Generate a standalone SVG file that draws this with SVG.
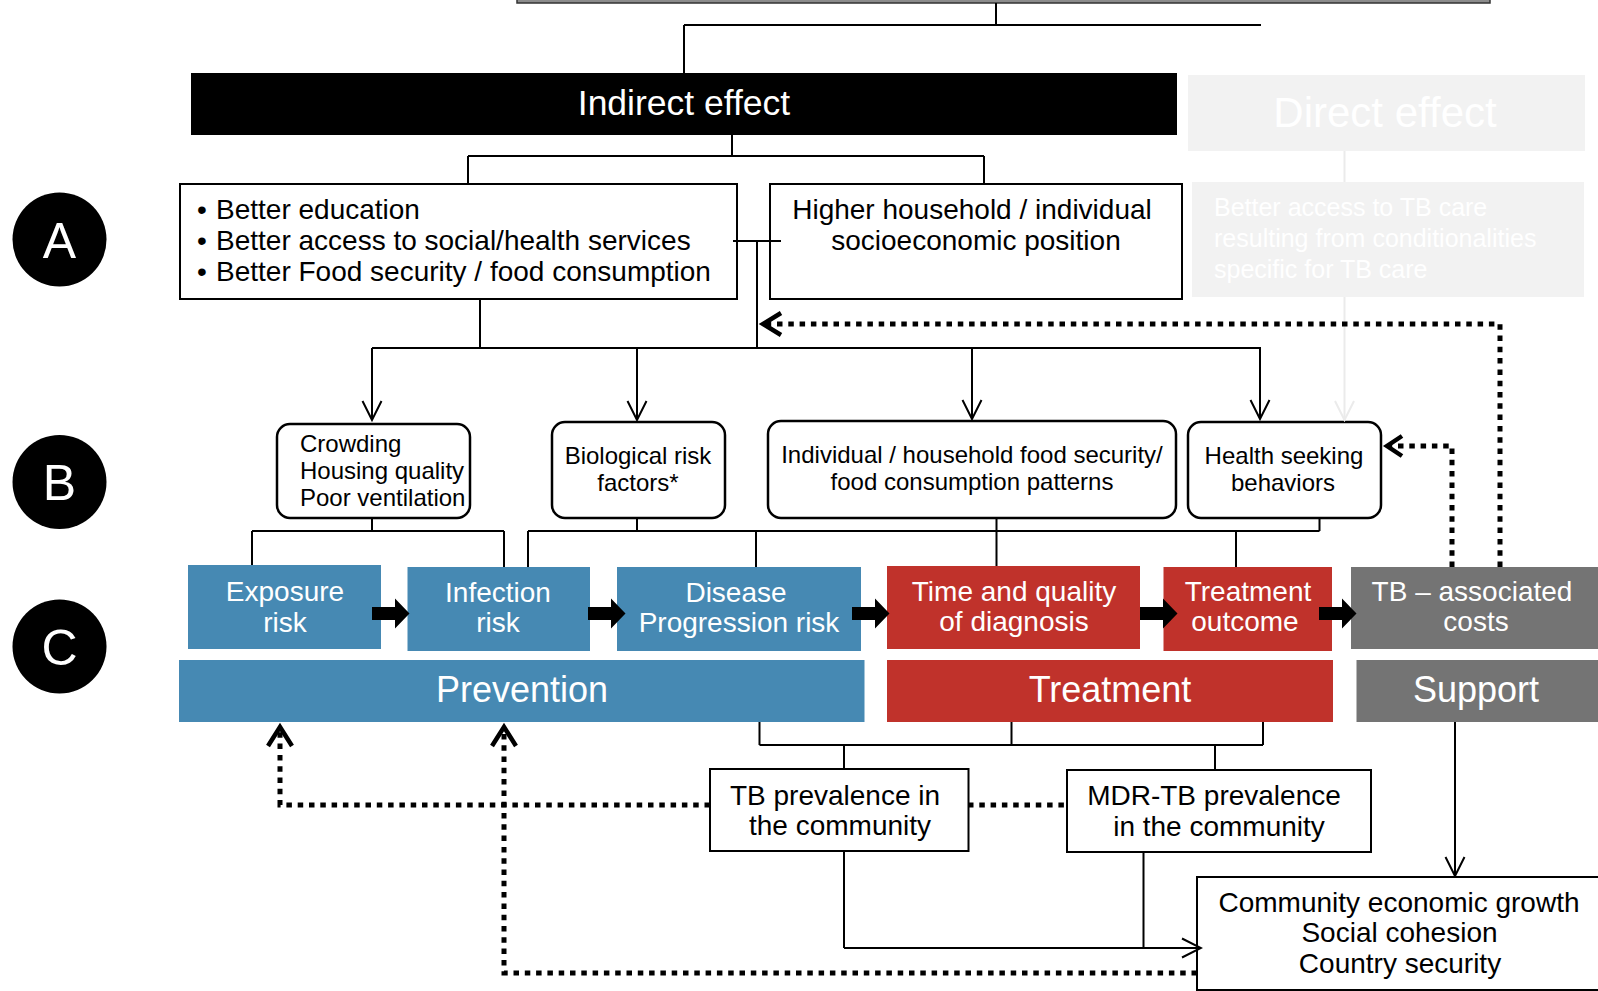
<svg xmlns="http://www.w3.org/2000/svg" width="1598" height="991" viewBox="0 0 1598 991">
<defs>
<style>
text { font-family: "Liberation Sans", Arial, sans-serif; }
.box { fill: #fff; stroke: #000; stroke-width: 2; }
.rbox { fill: #fff; stroke: #000; stroke-width: 2.5; }
.blue { fill: #4689b3; }
.red { fill: #c0322b; }
.grey { fill: #747474; }
.faint { fill: #f2f2f2; }
.wt { fill: #fff; }
.mid { text-anchor: middle; }
.f24 { font-size: 24px; }
.f28 { font-size: 28px; }
.f36 { font-size: 36px; }
.ln { fill: none; stroke: #000; stroke-width: 2; }
.fl { fill: none; stroke: #ebebeb; stroke-width: 2; }
.dot { fill: none; stroke: #000; stroke-width: 5; stroke-dasharray: 5.5 5.8; }
.chev { fill: none; stroke: #000; stroke-width: 4.5; stroke-linejoin: miter; }
.arr { marker-end: url(#ah); }
</style>
<marker id="ah" markerUnits="userSpaceOnUse" markerWidth="22" markerHeight="22" viewBox="0 0 22 22" refX="20" refY="11" orient="auto">
<path d="M1,1.5 L20,11 L1,20.5" fill="none" stroke="#000" stroke-width="2"/>
</marker>
<marker id="ahf" markerUnits="userSpaceOnUse" markerWidth="22" markerHeight="22" viewBox="0 0 22 22" refX="20" refY="11" orient="auto">
<path d="M1,1.5 L20,11 L1,20.5" fill="none" stroke="#ebebeb" stroke-width="2"/>
</marker>
<path id="blk" d="M0,-6.5 H23 V-15 L37.5,0 L23,15 V6.5 H0 Z" fill="#000"/>
</defs>

<g id="top-bar"><rect x="517" y="-10" width="973" height="13" fill="#8c8c8c" stroke="#333" stroke-width="1.5"/></g>

<g id="indirect-effect"><rect x="191" y="73" width="986" height="62" fill="#000"/><text x="684" y="115" class="wt mid" font-size="35.5">Indirect effect</text></g>
<g id="direct-effect"><rect x="1188" y="75" width="397" height="76" class="faint"/><text x="1385" y="127" class="wt mid" font-size="42">Direct effect</text></g>
<g id="tb-care-access"><rect x="1192" y="182" width="392" height="115" class="faint"/><text class="wt" font-size="25"><tspan x="1214" y="216">Better access to TB care</tspan><tspan x="1214" y="247">resulting from conditionalities</tspan><tspan x="1214" y="278">specific for TB care</tspan></text></g>

<g id="label-a"><circle cx="59.5" cy="239.5" r="47" fill="#000"/><text x="59.5" y="257.5" class="wt mid" font-size="50">A</text></g>
<g id="label-b"><circle cx="59.5" cy="482" r="47" fill="#000"/><text x="59.5" y="500" class="wt mid" font-size="50">B</text></g>
<g id="label-c"><circle cx="59.5" cy="646.5" r="47" fill="#000"/><text x="59.5" y="664.5" class="wt mid" font-size="50">C</text></g>

<g id="a-bullets"><rect x="180" y="184" width="557" height="115" class="box"/>
<text class="f28"><tspan x="197" y="219">•</tspan><tspan x="216" y="219">Better education</tspan><tspan x="197" y="250">•</tspan><tspan x="216" y="250">Better access to social/health services</tspan><tspan x="197" y="281">•</tspan><tspan x="216" y="281">Better Food security / food consumption</tspan></text></g>
<g id="a-ses"><rect x="770" y="184" width="412" height="115" class="box"/><text class="f28 mid"><tspan x="972" y="219">Higher household / individual</tspan><tspan x="976" y="250">socioeconomic position</tspan></text></g>

<g id="b-crowding"><rect x="277" y="424" width="193" height="94" rx="13" class="rbox"/><text class="f24"><tspan x="300" y="452">Crowding</tspan><tspan x="300" y="479">Housing quality</tspan><tspan x="300" y="506">Poor ventilation</tspan></text></g>
<g id="b-bio"><rect x="552" y="422" width="173" height="96" rx="13" class="rbox"/><text class="f24 mid"><tspan x="638" y="464">Biological risk</tspan><tspan x="638" y="491">factors*</tspan></text></g>
<g id="b-food"><rect x="768" y="421" width="408" height="97" rx="13" class="rbox"/><text class="f24 mid"><tspan x="972" y="463">Individual / household food security/</tspan><tspan x="972" y="490">food consumption patterns</tspan></text></g>
<g id="b-health"><rect x="1188" y="422" width="193" height="96" rx="13" class="rbox"/><text class="f24 mid"><tspan x="1284" y="464">Health seeking</tspan><tspan x="1283" y="491">behaviors</tspan></text></g>

<g id="c-exposure"><rect x="188" y="565" width="193" height="84" class="blue"/><text class="wt mid f28"><tspan x="285" y="601">Exposure</tspan><tspan x="285" y="632">risk</tspan></text></g>
<g id="c-infection"><rect x="407.5" y="567" width="182.5" height="84" class="blue"/><text class="wt mid f28"><tspan x="498" y="602">Infection</tspan><tspan x="498" y="632">risk</tspan></text></g>
<g id="c-disease"><rect x="617" y="567" width="244" height="84" class="blue"/><text class="wt mid f28"><tspan x="736" y="602">Disease</tspan><tspan x="739" y="632">Progression risk</tspan></text></g>
<g id="c-diagnosis"><rect x="887" y="566" width="253" height="83" class="red"/><text class="wt mid f28"><tspan x="1014" y="601">Time and quality</tspan><tspan x="1014" y="631">of diagnosis</tspan></text></g>
<g id="c-outcome"><rect x="1163.5" y="567" width="168.5" height="84" class="red"/><text class="wt mid f28"><tspan x="1248" y="601">Treatment</tspan><tspan x="1245" y="631">outcome</tspan></text></g>
<g id="c-costs"><rect x="1351" y="567" width="250" height="82" class="grey"/><text class="wt mid f28"><tspan x="1472" y="601">TB – associated</tspan><tspan x="1476" y="631">costs</tspan></text></g>

<g id="prevention"><rect x="179" y="660" width="685.5" height="62" class="blue"/><text x="522" y="702" class="wt mid f36">Prevention</text></g>
<g id="treatment"><rect x="887" y="660" width="446" height="62" class="red"/><text x="1110" y="702" class="wt mid f36">Treatment</text></g>
<g id="support"><rect x="1356.5" y="660" width="245" height="62" class="grey"/><text x="1476" y="702" class="wt mid f36">Support</text></g>

<g id="tb-prevalence"><rect x="710" y="769" width="258.5" height="82" class="box"/><text class="f28 mid"><tspan x="835" y="805">TB prevalence in</tspan><tspan x="840" y="835">the community</tspan></text></g>
<g id="mdr-prevalence"><rect x="1067" y="770" width="304" height="82" class="box"/><text class="f28 mid"><tspan x="1214" y="805">MDR-TB prevalence</tspan><tspan x="1219" y="836">in the community</tspan></text></g>
<g id="community"><rect x="1197" y="877" width="420" height="113" class="box"/><text class="f28 mid"><tspan x="1399" y="912">Community economic growth</tspan><tspan x="1399.5" y="942">Social cohesion</tspan><tspan x="1400" y="973">Country security</tspan></text></g>

<g id="connectors">
<path class="ln" d="M996,3 V25 M684,25 H1261 M684,25 V73"/>
<path class="ln" d="M732,135 V156 M468,156 H984 M468,156 V184 M984,156 V184"/>
<path class="fl" d="M1344.5,151 V182"/>
<path class="fl" d="M1344.5,297 V420" marker-end="url(#ahf)"/>
<path class="ln" d="M733,241 H781 M757,241 V348 M480,299 V348 M372,348 H1261"/>
<path class="ln arr" d="M372,348 V420"/>
<path class="ln arr" d="M637,348 V420"/>
<path class="ln arr" d="M972,348 V419"/>
<path class="ln arr" d="M1260,348 V419"/>
<path class="ln" d="M372,518 V531 M252,531 H504 M252,531 V565 M504,531 V567"/>
<path class="ln" d="M637,518 V531 M996.5,518 V566 M1319.5,518 V531 M528,531 H1319.5 M528,531 V567 M756,531 V567 M1236,531 V567"/>
<use href="#blk" x="372" y="613.5"/>
<use href="#blk" x="588" y="613.5"/>
<use href="#blk" x="852" y="613.5"/>
<use href="#blk" x="1140" y="613.5"/>
<use href="#blk" x="1319" y="613.5"/>
<path class="ln" d="M759.5,722 V745 M1011.5,722 V745 M1263,722 V745 M759.5,745 H1263 M844,745 V769 M1215,745 V770"/>
<path class="ln" d="M844,851 V948 M1143.5,852 V948"/>
<path class="ln arr" d="M844,948 H1201"/>
<path class="ln arr" d="M1455,722 V876"/>
<path class="dot" d="M1500,567 V324 H766"/>
<polyline class="chev" points="781,313 763,324 781,335"/>
<path class="dot" d="M1452,567 V446 H1390"/>
<polyline class="chev" points="1402,436 1387,446 1402,456"/>
<path class="dot" d="M710,805 H280 V730"/>
<polyline class="chev" points="268,746 280,727 292,746"/>
<path class="dot" d="M968,805 H1067"/>
<path class="dot" d="M1197,973 H504 V730"/>
<polyline class="chev" points="492,746 504,727 516,746"/>
</g>
</svg>
